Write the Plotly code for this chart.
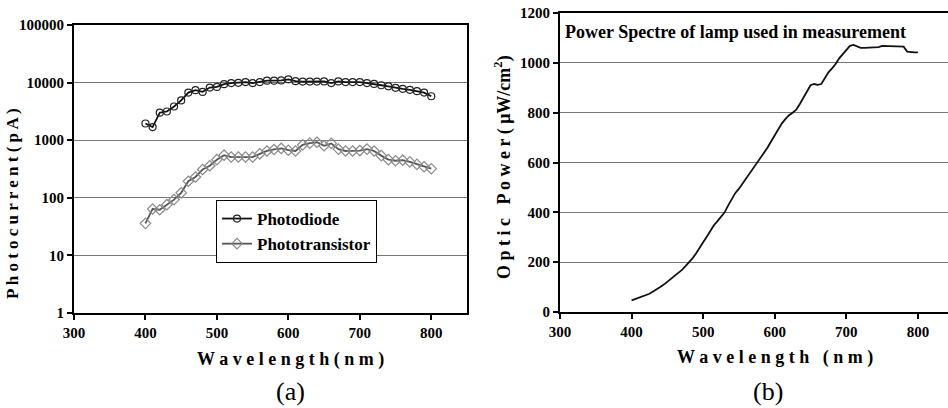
import plotly.graph_objects as go

# ---- data (a) ----
wl_a = list(range(400, 801, 10))
photodiode = [1950, 1690, 3000, 3150, 3850, 4900, 6700, 7400, 6900, 8200,
              8400, 9400, 9800, 9900, 10200, 9800, 10200, 10800, 10800, 10900,
              11400, 10600, 10400, 10400, 10400, 10500, 9800, 10500, 10200, 10200,
              10200, 9800, 9500, 9000, 8600, 8100, 7800, 7500, 7100, 6700, 5800]
phototransistor = [36, 64, 62, 76, 93, 122, 194, 230, 310, 360,
                   460, 550, 510, 510, 510, 510, 580, 650, 690, 720,
                   670, 650, 830, 890, 920, 800, 880, 700, 650, 650,
                   660, 700, 650, 540, 460, 440, 450, 420, 380, 345, 320]

# ---- data (b) ----
wl_b = list(range(400, 801, 5))
power = [47, 52, 58, 63, 68, 73, 82, 90, 100, 110,
         120, 133, 145, 155, 168, 183, 198, 215, 235, 255,
         280, 302, 325, 348, 365, 385, 400, 428, 455, 478,
         495, 515, 535, 555, 575, 600, 615, 635, 660, 685,
         710, 735, 757, 775, 790, 800, 812, 835, 860, 880,
         910, 915, 912, 915, 940, 962, 978, 995, 1018, 1035,
         1055, 1068, 1072, 1065, 1060, 1060, 1060, 1060, 1060, 1063,
         1068, 1068, 1068, 1068, 1068, 1068, 1065, 1045, 1042, 1042, 1042]

xticks = [300, 400, 500, 600, 700, 800]
yticks_a = [1, 10, 100, 1000, 10000, 100000]
yticks_b = [0, 200, 400, 600, 800, 1000, 1200]

W, H = 948, 408
SERIF = "Liberation Serif"

def px(x):
    return x / W

def py(y):
    return (H - y) / H

fig = go.Figure()

fig.add_trace(go.Scatter(
    x=wl_a, y=photodiode, name="Photodiode", mode="lines+markers",
    line=dict(color="#111111", width=1.8),
    marker=dict(symbol="circle-open", size=7, color="#222222", line=dict(width=1.2)),
    xaxis="x", yaxis="y"))
fig.add_trace(go.Scatter(
    x=wl_a, y=phototransistor, name="Phototransistor", mode="lines+markers",
    line=dict(color="#555555", width=1.8),
    marker=dict(symbol="diamond-open", size=8, color="#8a8a8a", line=dict(width=1.2)),
    xaxis="x", yaxis="y"))
fig.add_trace(go.Scatter(
    x=wl_b, y=power, name="Power", mode="lines", showlegend=False,
    line=dict(color="#111111", width=1.8),
    xaxis="x2", yaxis="y2"))

tickfont = dict(family=SERIF, size=15, color="black", weight="bold")
common_x = dict(showgrid=False, zeroline=False, showline=True, linecolor="black",
                linewidth=2, ticks="outside", ticklen=5, tickwidth=1.5,
                tickcolor="black", tickfont=tickfont, automargin=False)
common_y = dict(showgrid=True, gridcolor="#777777", gridwidth=1.2, zeroline=False,
                showline=True, linecolor="black", linewidth=2,
                ticks="outside", ticklen=5, tickwidth=1.5, tickcolor="black",
                tickfont=tickfont, automargin=False)

fig.update_layout(
    width=W, height=H,
    margin=dict(l=0, r=0, t=0, b=0, pad=0, autoexpand=False),
    paper_bgcolor="white", plot_bgcolor="white",
    font=dict(family=SERIF, color="black"),
    xaxis=dict(domain=[px(74), px(467)], range=[300, 850], tickvals=xticks,
               mirror=True, anchor="y", **common_x),
    yaxis=dict(domain=[py(313), py(25)], type="log", range=[0, 5], tickvals=yticks_a,
               ticktext=[str(v) for v in yticks_a], mirror=True, anchor="x", **common_y),
    xaxis2=dict(domain=[px(560), 1.0], range=[300, 842], tickvals=xticks,
                mirror=True, anchor="y2", **common_x),
    yaxis2=dict(domain=[py(312), py(13)], range=[0, 1200], tickvals=yticks_b,
                anchor="x2", **common_y),
    legend=dict(x=px(216), y=py(200), xanchor="left", yanchor="top",
                bgcolor="white", bordercolor="black", borderwidth=1,
                font=dict(family=SERIF, size=17, color="black", weight="bold"),
                itemwidth=30, tracegroupgap=0),
    showlegend=True,
)

title_font = dict(family=SERIF, size=17, color="black", weight="bold")
anns = [
    dict(text="P h o t o c u r r e n t ( p A )", x=px(12), y=py(204), textangle=-90,
         font=title_font),
    dict(text="W a v e l e n g t h ( n m )", x=px(290), y=py(359),
         font=dict(family=SERIF, size=18, color="black", weight="bold")),
    dict(text="(a)", x=px(290), y=py(391), font=dict(family=SERIF, size=26, color="black")),
    dict(text="O p t i c   P o w e r ( μW/cm<sup>2</sup>)", x=px(503), y=py(167),
         textangle=-90, font=dict(family=SERIF, size=18, color="black", weight="bold")),
    dict(text="W a v e l e n g t h   ( n m )", x=px(775), y=py(357),
         font=dict(family=SERIF, size=18, color="black", weight="bold")),
    dict(text="(b)", x=px(768), y=py(391), font=dict(family=SERIF, size=26, color="black")),
    dict(text="Power Spectre of lamp used in measurement", x=px(563), y=py(32),
         xanchor="left", font=dict(family=SERIF, size=18, color="black", weight="bold")),
]
for a in anns:
    a.setdefault("xanchor", "center")
    a.update(xref="paper", yref="paper", yanchor="middle", showarrow=False)
fig.update_layout(annotations=anns)

fig.write_html("out.html", config={"displayModeBar": False},
               post_script="document.body.style.margin='0';document.body.style.overflow='hidden';")
